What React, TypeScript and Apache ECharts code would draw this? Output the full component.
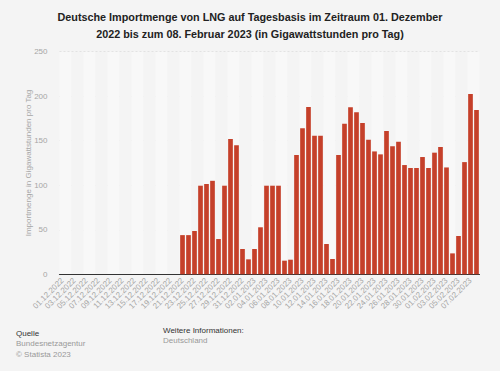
import React, { useEffect, useRef } from "react";
import * as echarts from "echarts";

const titleLines = [
  "Deutsche Importmenge von LNG auf Tagesbasis im Zeitraum 01. Dezember",
  "2022 bis zum 08. Februar 2023 (in Gigawattstunden pro Tag)",
];

const categories = [
  "01.12.2022", "02.12.2022", "03.12.2022", "04.12.2022", "05.12.2022", "06.12.2022", "07.12.2022",
  "08.12.2022", "09.12.2022", "10.12.2022", "11.12.2022", "12.12.2022", "13.12.2022", "14.12.2022",
  "15.12.2022", "16.12.2022", "17.12.2022", "18.12.2022", "19.12.2022", "20.12.2022", "21.12.2022",
  "22.12.2022", "23.12.2022", "24.12.2022", "25.12.2022", "26.12.2022", "27.12.2022", "28.12.2022",
  "29.12.2022", "30.12.2022", "31.12.2022", "01.01.2023", "02.01.2023", "03.01.2023", "04.01.2023",
  "05.01.2023", "06.01.2023", "07.01.2023", "08.01.2023", "09.01.2023", "10.01.2023", "11.01.2023",
  "12.01.2023", "13.01.2023", "14.01.2023", "15.01.2023", "16.01.2023", "17.01.2023", "18.01.2023",
  "19.01.2023", "20.01.2023", "21.01.2023", "22.01.2023", "23.01.2023", "24.01.2023", "25.01.2023",
  "26.01.2023", "27.01.2023", "28.01.2023", "29.01.2023", "30.01.2023", "31.01.2023", "01.02.2023",
  "02.02.2023", "03.02.2023", "04.02.2023", "05.02.2023", "06.02.2023", "07.02.2023", "08.02.2023",
];

const values = [
  0, 0, 0, 0, 0, 0, 0, 0, 0, 0,
  0, 0, 0, 0, 0, 0, 0, 0, 0, 0,
  44, 44, 48.6, 99.5, 101.4, 105, 39.6, 99.5, 152, 145,
  28.4, 16.8, 28.4, 52.8, 99.5, 99.5, 99.5, 15.3, 16.4, 134,
  164, 188, 155.7, 155.7, 34, 17.2, 134, 169, 187.5, 182,
  170, 151, 138, 134.7, 161, 143.7, 149, 122.7, 119.4, 119.4,
  131.7, 119.4, 136.6, 143, 120, 23.5, 43, 126, 202.5, 184.5,
];

const yTicks = { min: 0, max: 250, interval: 50 };
const yAxisName = "Importmenge in Gigawattstunden pro Tag";
const sourceLines = ["Quelle", "Bundesnetzagentur", "© Statista 2023"];
const infoLines = ["Weitere Informationen:", "Deutschland"];

const FONT = "'Liberation Sans', Arial, sans-serif";

export default function App() {
  const ref = useRef<HTMLDivElement>(null);
  useEffect(() => {
    if (!ref.current) return;
    const chart = echarts.init(ref.current, null, { renderer: "svg" });
    chart.setOption({
      animation: false,
      backgroundColor: "#f4f4f4",
      textStyle: { fontFamily: FONT },
      grid: { left: 59.5, right: 20.5, top: 51.7, bottom: 96.7, containLabel: false },
      xAxis: {
        type: "category",
        data: categories,
        axisLine: { show: true, lineStyle: { color: "#333", width: 1.2 } },
        axisTick: { show: false },
        axisLabel: {
          interval: 1,
          rotate: 45,
          fontSize: 8,
          color: "#a6a6a6",
          margin: 5,
          fontFamily: FONT,
        },
        splitArea: { show: true, areaStyle: { color: ["#f8f8f8", "#f4f4f4"] } },
        splitLine: { show: false },
      },
      yAxis: {
        type: "value",
        min: yTicks.min,
        max: yTicks.max,
        interval: yTicks.interval,
        name: yAxisName,
        nameLocation: "middle",
        nameGap: 27.5,
        nameMoveOverlap: false,
        nameTextStyle: { fontSize: 8, color: "#a6a6a6", fontFamily: FONT },
        axisLine: { show: false },
        axisTick: { show: false },
        axisLabel: { fontSize: 8, color: "#a6a6a6", margin: 12, fontFamily: FONT },
        splitLine: { show: true, lineStyle: { color: "#dcdcdc", type: [2, 2], width: 1 } },
      },
      series: [
        {
          type: "bar",
          data: values,
          barCategoryGap: "22%",
          itemStyle: { color: "#c5402a" },
        },
      ],
      graphic: [
        ...titleLines.map((t, i) => ({
          type: "text",
          x: 250,
          y: 17 + i * 17,
          style: {
            text: t,
            fontSize: 10.8,
            fontWeight: "bold",
            fontFamily: FONT,
            fill: "#222",
            textAlign: "center",
            textVerticalAlign: "middle",
          },
        })),
        ...sourceLines.map((t, i) => ({
          type: "text",
          left: 16,
          top: 329 + i * 10.5,
          style: {
            text: t,
            fontSize: 8,
            fontFamily: FONT,
            fill: i === 0 ? "#333" : "#999",
          },
        })),
        ...infoLines.map((t, i) => ({
          type: "text",
          left: 163,
          top: 326 + i * 10.5,
          style: {
            text: t,
            fontSize: 8,
            fontFamily: FONT,
            fill: i === 0 ? "#333" : "#999",
          },
        })),
      ],
    });
    return () => chart.dispose();
  }, []);
  return (
    <div
      ref={ref}
      style={{ position: "fixed", left: 0, top: 0, width: 500, height: 371, background: "#f4f4f4" }}
    />
  );
}
